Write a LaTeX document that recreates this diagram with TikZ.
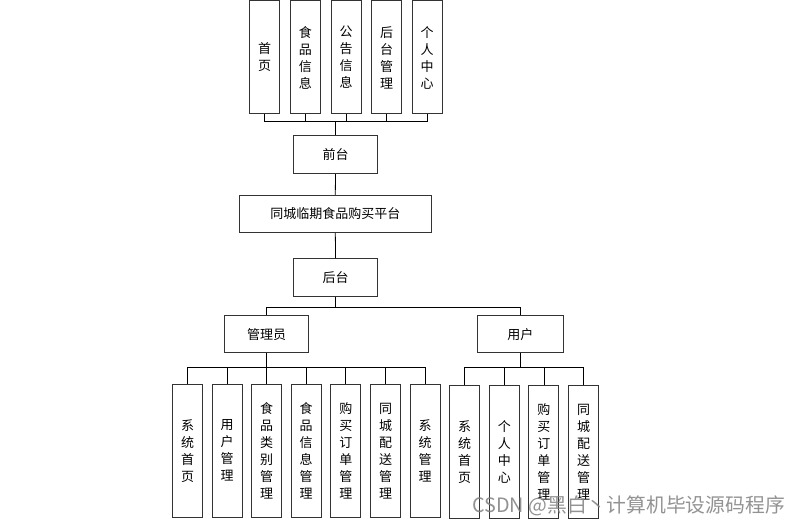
\documentclass[tikz,border=0pt]{standalone}
\usepackage{fontspec}
\setmainfont{Noto Sans CJK SC}
\begin{document}
\begin{tikzpicture}[x=1pt,y=-1pt,
  box/.style={draw=black!80, line width=1pt, fill=white, inner sep=0pt, font=\fontsize{13}{17}\selectfont},
  vbox/.style={box, minimum width=30pt, align=center},
  hbox/.style={box, minimum height=37.5pt},
  link/.style={draw=black, line width=0.8pt}]
\useasboundingbox (0,0) rectangle (801,526);
\fill[white] (0,0) rectangle (801,526);
% top row
\node[vbox, minimum height=113pt] (t1) at (264.7,57.5) {首\\页};
\node[vbox, minimum height=113pt] (t2) at (305.3,57.5) {食\\品\\信\\息};
\node[vbox, minimum height=113pt] (t3) at (346,57.5) {公\\告\\信\\息};
\node[vbox, minimum height=113pt] (t4) at (386.7,57.5) {后\\台\\管\\理};
\node[vbox, minimum height=113pt] (t5) at (427,57.5) {个\\人\\中\\心};
\node[hbox, minimum width=84.5pt, minimum height=38.5pt] (qt) at (335.5,154.5) {前台};
\node[hbox, minimum width=192pt, minimum height=37pt] (pt) at (335.3,213.8) {同城临期食品购买平台};
\node[hbox, minimum width=84.5pt] (ht) at (335.6,277.5) {后台};
\node[hbox, minimum width=84.5pt] (gl) at (266.7,334.2) {管理员};
\node[hbox, minimum width=85.5pt] (yh) at (520.3,334.2) {用户};
% admin children
\node[vbox, minimum height=133pt] (a1) at (187.5,450.7) {系\\统\\首\\页};
\node[vbox, minimum height=133pt] (a2) at (227.1,450.7) {用\\户\\管\\理};
\node[vbox, minimum height=133pt] (a3) at (266.7,450.7) {食\\品\\类\\别\\管\\理};
\node[vbox, minimum height=133pt] (a4) at (306.1,450.7) {食\\品\\信\\息\\管\\理};
\node[vbox, minimum height=133pt] (a5) at (345.8,450.7) {购\\买\\订\\单\\管\\理};
\node[vbox, minimum height=133pt] (a6) at (385.5,450.7) {同\\城\\配\\送\\管\\理};
\node[vbox, minimum height=133pt] (a7) at (425,450.7) {系\\统\\管\\理};
% user children
\node[vbox, minimum height=132pt] (u1) at (464.7,452) {系\\统\\首\\页};
\node[vbox, minimum height=132pt] (u2) at (504.4,452) {个\\人\\中\\心};
\node[vbox, minimum height=132pt] (u3) at (543.9,452) {购\\买\\订\\单\\管\\理};
\node[vbox, minimum height=132pt] (u4) at (583.6,452) {同\\城\\配\\送\\管\\理};
% buses
\coordinate (b1) at (335.6,121);
\coordinate (b2) at (335.6,307.5);
\coordinate (b3) at (266.7,367.7);
\coordinate (b4) at (520.3,367.7);
% top connectors
\draw[link] (t1.south) -- (t1.south |- b1) -- (t5.south |- b1) -- (t5.south);
\foreach \n in {t2,t3,t4} \draw[link] (\n.south) -- (\n.south |- b1);
\draw[link] (qt.north) -- (qt.north |- b1);
\draw[link] (qt.south) -- (pt.north);
\draw[link] (pt.south) -- (ht.north);
% back-end split
\draw[link] (ht.south) -- (ht.south |- b2);
\draw[link] (gl.north) -- (gl.north |- b2) -- (yh.north |- b2) -- (yh.north);
% admin
\draw[link, line width=1.4pt] (gl.south) -- (b3);
\draw[link] (a1.north) -- (a1.north |- b3) -- (a7.north |- b3) -- (a7.north);
\foreach \n in {a2,a3,a4,a5,a6} \draw[link] (\n.north) -- (\n.north |- b3);
% user
\draw[link] (yh.south) -- (b4);
\draw[link] (u1.north) -- (u1.north |- b4) -- (u4.north |- b4) -- (u4.north);
\foreach \n in {u2,u3} \draw[link] (\n.north) -- (\n.north |- b4);
% watermark
\node[anchor=west, text=black!50, opacity=0.85, inner sep=0pt, font=\fontsize{19.8}{22}\selectfont] (wm) at (472,506) {CSDN @黑白丶计算机毕设源码程序};
\end{tikzpicture}
\end{document}
